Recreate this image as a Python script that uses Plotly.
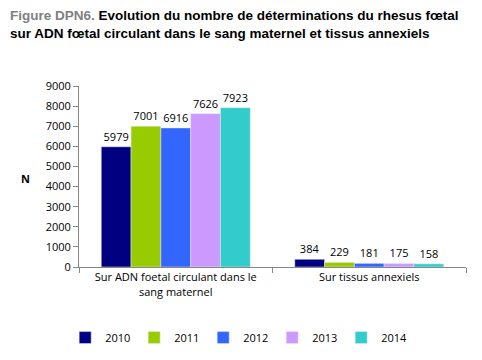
import plotly.graph_objects as go

categories = ["Sur ADN foetal circulant dans le<br>sang maternel", "Sur tissus annexiels"]
years = ["2010", "2011", "2012", "2013", "2014"]
values = {
    "2010": [5979, 384],
    "2011": [7001, 229],
    "2012": [6916, 181],
    "2013": [7626, 175],
    "2014": [7923, 158],
}
colors = ["#000080", "#99CC00", "#3366FF", "#CC99FF", "#33CCCC"]
y_ticks = [0, 1000, 2000, 3000, 4000, 5000, 6000, 7000, 8000, 9000]

fig = go.Figure()
for yr, col in zip(years, colors):
    fig.add_trace(go.Bar(
        x=categories, y=values[yr], name=yr, marker_color=col,
        text=[str(v) for v in values[yr]], textposition="outside",
        textfont=dict(size=11, color="#000000"), cliponaxis=False,
    ))

font_fam = "Open Sans, DejaVu Sans, sans-serif"
fig.update_layout(
    width=482, height=360,
    margin=dict(l=79, r=16, t=86, b=93, autoexpand=False),
    paper_bgcolor="white", plot_bgcolor="white",
    barmode="group", bargap=0.23, bargroupgap=0,
    font=dict(family=font_fam, size=11, color="#000000"),
    showlegend=True,
    legend=dict(orientation="h", x=0.41, xanchor="center", y=-0.39, yanchor="middle",
                font=dict(size=11), itemwidth=30, entrywidth=24, traceorder="normal"),
    xaxis=dict(type="category", showline=True, linecolor="#868686", linewidth=1,
               ticks="outside", tickson="boundaries", ticklen=5, tickcolor="#868686",
               tickfont=dict(size=11), automargin=False),
    yaxis=dict(range=[0, 9000], tickvals=y_ticks, showline=True, linecolor="#868686",
               linewidth=1, ticks="outside", ticklen=5, tickcolor="#868686",
               showgrid=False, zeroline=False, tickfont=dict(size=11), automargin=False),
    annotations=[
        dict(text="<b><span style='color:#7f7f7f'>Figure DPN6.</span> Evolution du nombre de déterminations du rhesus fœtal</b><br><b>sur ADN fœtal circulant dans le sang maternel et tissus annexiels</b>",
             xref="paper", yref="paper", x=-79/387 + 8/387, y=1 + 80/181, xanchor="left", yanchor="top",
             align="left", showarrow=False,
             font=dict(family="Liberation Sans, Arial, sans-serif", size=13.5, color="#000000")),
        dict(text="<b>N</b>", xref="paper", yref="paper", x=(25-79)/387, y=(267-178)/181,
             xanchor="center", yanchor="middle", showarrow=False, font=dict(size=11)),
    ],
)

fig.write_html("out.html", config={"displayModeBar": False},
               post_script="document.body.style.margin='0px';document.body.style.overflow='hidden';")
